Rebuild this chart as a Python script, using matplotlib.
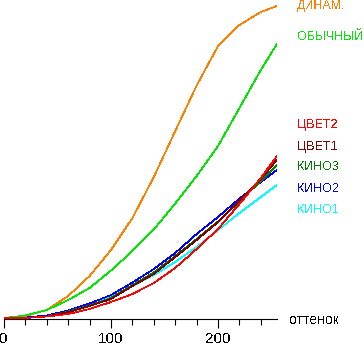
import matplotlib
matplotlib.use("Agg")
import matplotlib.pyplot as plt
from matplotlib.ticker import MultipleLocator

plt.rcParams['font.family'] = ['Liberation Sans', 'DejaVu Sans']
plt.rcParams['text.antialiased'] = False
plt.rcParams['lines.antialiased'] = False

# оттенок (0..255) and brightness curves
x = [0, 20, 40, 60, 80, 100, 120, 140, 160, 180, 200, 220, 240, 255]

dinam = [1, 3, 9, 23, 43, 69, 101, 142, 188, 233.5, 273, 294, 307, 313]
obychn = [1, 3.5, 9, 19, 31, 48.5, 68, 89.5, 115.5, 143, 173, 211, 249, 275]
tsvet2 = [1, 1, 2.5, 5, 10, 17, 25, 36, 51, 70, 90, 115, 141, 163]
tsvet1 = [1, 1, 2.5, 7, 13, 20, 33, 45, 62, 79, 97, 118, 140, 159]
kino3 = [1, 1, 2.5, 7.5, 13.5, 21, 34, 46.5, 63, 80, 97.5, 117.5, 138, 154]
kino2 = [1, 1.5, 3.5, 8.5, 15.5, 24, 36.5, 50, 66, 85, 102, 120.5, 137, 149]
kino1 = [1, 1, 2.5, 6.5, 13, 22, 33, 44, 57, 72, 89, 106, 122, 134]

series = [
    (dinam, "#ff8000", "ДИНАМ.", 6),
    (obychn, "#00e600", "ОБЫЧНЫЙ", 37),
    (kino1, "#00ffff", "КИНО1", 210),
    (kino2, "#0000ff", "КИНО2", 188.5),
    (kino3, "#008000", "КИНО3", 167.5),
    (tsvet1, "#800000", "ЦВЕТ1", 146.5),
    (tsvet2, "#ff0000", "ЦВЕТ2", 125),
]

W, H = 364, 345
fig = plt.figure(figsize=(W / 100, H / 100), dpi=100)
x0, x1 = 4, 276.9
ax = fig.add_axes([x0 / W, (H - 319) / H, (x1 - x0) / W, 314 / H])
ax.set_xlim(0, 255)
ax.set_ylim(0, 314)

for vals, col, lab, ty in series:
    ax.plot(x, vals, color=col, lw=0.5)
    fig.text(297 / W, 1 - ty / H, lab, color=col, fontsize=9,
             ha='left', va='center')

for s in ['top', 'right', 'left']:
    ax.spines[s].set_visible(False)
ax.spines['bottom'].set_linewidth(0.8)
ax.set_yticks([])
ax.xaxis.set_major_locator(MultipleLocator(100))
ax.xaxis.set_minor_locator(MultipleLocator(20))
ax.tick_params(axis='x', which='major', length=6.5, width=0.8, pad=3,
               labelsize=11)
ax.tick_params(axis='x', which='minor', length=4.3, width=0.8)

fig.text(289 / W, 1 - 324 / H, "оттенок", fontsize=10, ha='left',
         va='baseline')

fig.savefig("out.png", dpi=100)
